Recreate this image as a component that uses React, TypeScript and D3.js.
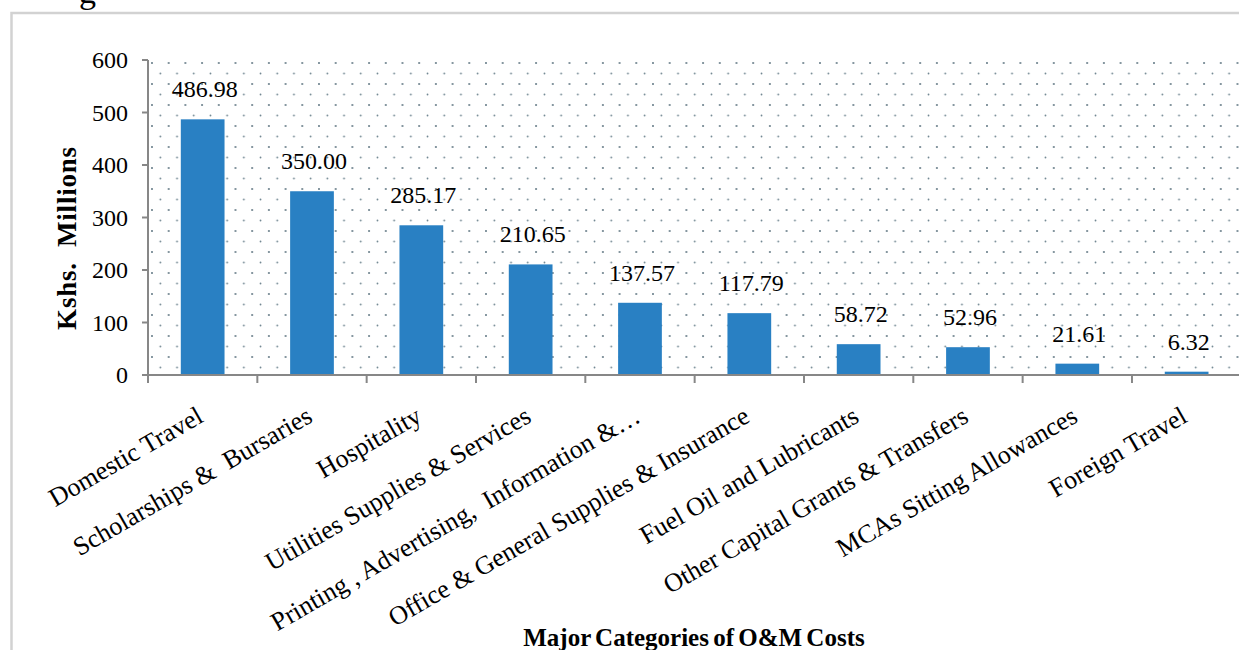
import React from "react";
import * as d3 from "d3";

const categories = [
  "Domestic Travel",
  "Scholarships &  Bursaries",
  "Hospitality",
  "Utilities Supplies & Services",
  "Printing , Advertising,  Information &…",
  "Office & General Supplies & Insurance",
  "Fuel Oil and Lubricants",
  "Other Capital Grants & Transfers",
  "MCAs Sitting Allowances",
  "Foreign Travel",
];
const values = [486.98, 350.0, 285.17, 210.65, 137.57, 117.79, 58.72, 52.96, 21.61, 6.32];
const yTicks = [0, 100, 200, 300, 400, 500, 600];
const yTitle = "Kshs.  Millions";
const xTitle = "Major Categories of O&M Costs";

const W = 1239;
const H = 650;
const left = 148;
const right = 1241.3;
const top = 60;
const bottom = 375;
const serif = "'Liberation Serif', 'Times New Roman', serif";
const axisColor = "#878787";
const barColor = "#2980c3";

export default function App() {
  const x = d3.scaleBand<string>().domain(categories).range([left, right]).paddingInner(0.6).paddingOuter(0.3);
  const y = d3.scaleLinear().domain([0, 600]).range([bottom, top]);
  const step = x.step();
  const off = (step - x.bandwidth()) / 2;

  return (
    <svg
      width={W}
      height={H}
      viewBox={`0 0 ${W} ${H}`}
      style={{ position: "absolute", left: 0, top: 0, background: "#fff" }}
    >
      <defs>
        <pattern id="dots" patternUnits="userSpaceOnUse" x={left + 3} y={top + 2} width={16.7} height={21}>
          <circle cx={1} cy={1} r={1} fill="#5d7480" />
          <circle cx={9.35} cy={11.5} r={0.9} fill="#6f8590" />
        </pattern>
      </defs>
      <rect x={0} y={0} width={W} height={H} fill="#fff" />
      {/* partial title glyph */}
      <text x={79} y={3} fontFamily={serif} fontSize={34} fill="#000">g</text>
      {/* outer frame */}
      <path d={`M11.5,${H + 5} L11.5,13 L${W + 5},13`} fill="none" stroke="#d2d2d2" strokeWidth={2.5} />

      {/* plot area pattern */}
      <rect x={left} y={top - 2} width={right - left} height={bottom - top + 2} fill="url(#dots)" />

      {/* bars */}
      {categories.map((c, i) => (
        <rect
          key={c}
          x={x(c)}
          y={y(values[i])}
          width={x.bandwidth()}
          height={bottom - y(values[i])}
          fill={barColor}
        />
      ))}

      {/* value labels */}
      {categories.map((c, i) => (
        <text
          key={c + "v"}
          x={(x(c) as number) + x.bandwidth() / 2 + 2}
          y={y(values[i]) - 22}
          textAnchor="middle"
          fontFamily={serif}
          fontSize={24}
          fill="#000"
        >
          {values[i].toFixed(2)}
        </text>
      ))}

      {/* y axis */}
      <line x1={left} x2={left} y1={top} y2={bottom} stroke={axisColor} strokeWidth={2} />
      {yTicks.map((t) => (
        <g key={t}>
          <line x1={left - 6} x2={left} y1={y(t)} y2={y(t)} stroke={axisColor} strokeWidth={2} />
          <text
            x={128}
            y={y(t)}
            dy="0.35em"
            textAnchor="end"
            fontFamily={serif}
            fontSize={24}
            fill="#000"
          >
            {t}
          </text>
        </g>
      ))}

      {/* x axis */}
      <line x1={left - 6} x2={W + 5} y1={bottom} y2={bottom} stroke={axisColor} strokeWidth={2} />
      {categories.map((c) => (
        <line
          key={c + "t"}
          x1={(x(c) as number) - off}
          x2={(x(c) as number) - off}
          y1={bottom}
          y2={bottom + 8}
          stroke={axisColor}
          strokeWidth={2}
        />
      ))}

      {/* category labels */}
      {categories.map((c) => {
        const cx = (x(c) as number) + x.bandwidth() / 2 + 2;
        const cy = bottom + 46;
        return (
          <text
            key={c + "l"}
            transform={`translate(${cx},${cy}) rotate(-30)`}
            textAnchor="end"
            fontFamily={serif}
            fontSize={26}
            fill="#000"
            style={{ whiteSpace: "pre" }}
          >
            {c}
          </text>
        );
      })}

      {/* axis titles */}
      <text
        transform={`translate(76,238) rotate(-90)`}
        textAnchor="middle"
        fontFamily={serif}
        fontWeight="bold"
        fontSize={27}
        letterSpacing={0.8}
        fill="#000"
        style={{ whiteSpace: "pre" }}
      >
        {yTitle}
      </text>
      <text
        x={694}
        y={646}
        textAnchor="middle"
        fontFamily={serif}
        fontWeight="bold"
        fontSize={25}
        fill="#000"
        wordSpacing={-2}
      >
        {xTitle}
      </text>
    </svg>
  );
}
